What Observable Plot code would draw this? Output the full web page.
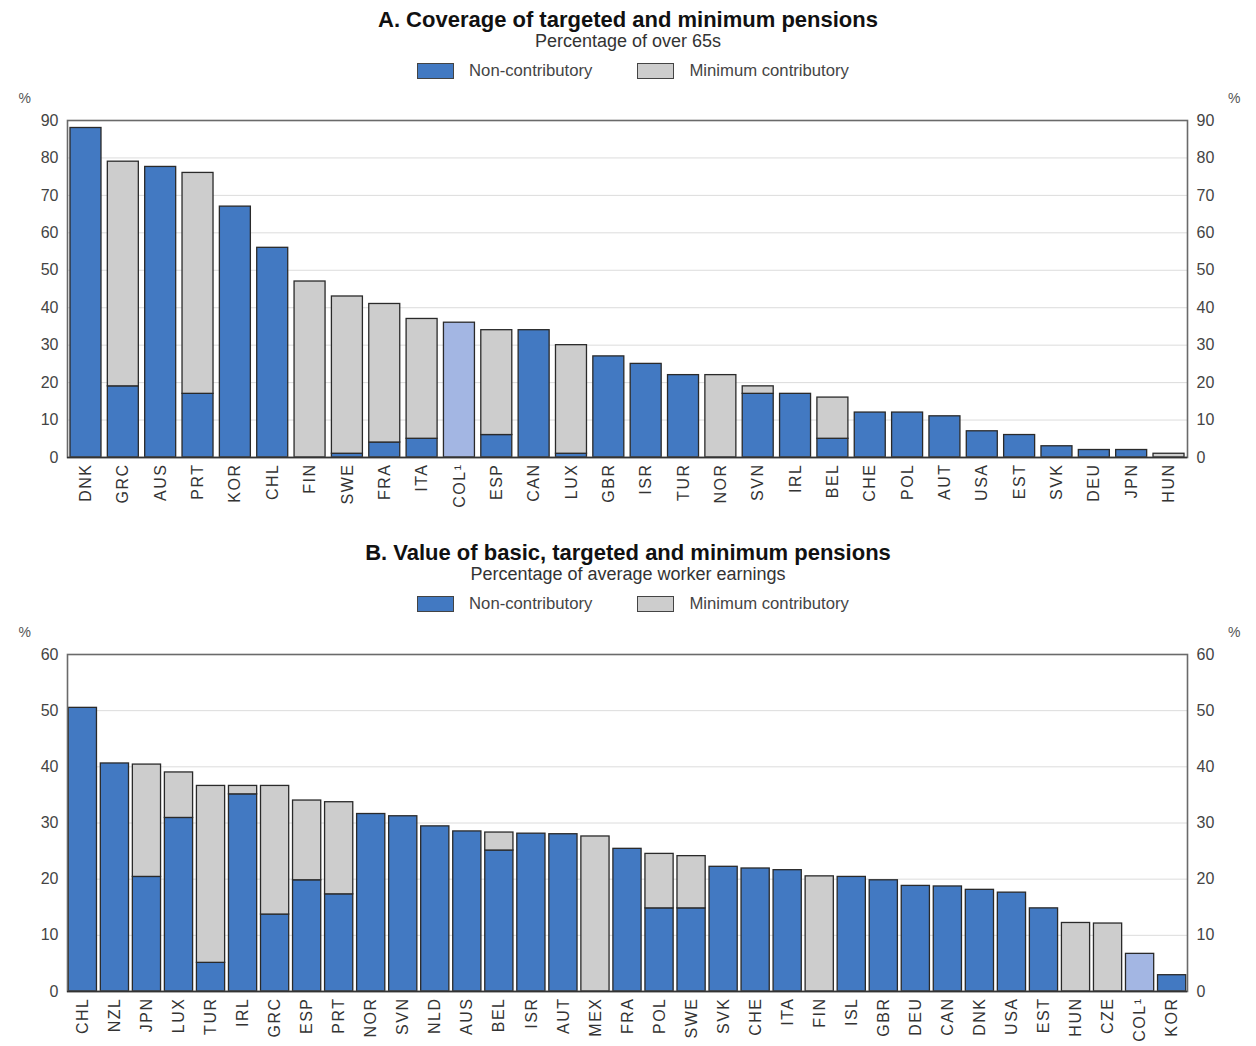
<!DOCTYPE html>
<html><head><meta charset="utf-8">
<script src="https://cdn.jsdelivr.net/npm/d3@7"></script>
<script src="https://cdn.jsdelivr.net/npm/@observablehq/plot@0.6"></script>
<style>
body{margin:0;background:#fff;font-family:"Liberation Sans",Arial,sans-serif;}
#root{position:relative;width:1256px;height:1046px;overflow:hidden;background:#fff}
.abs{position:absolute;left:0;width:1256px;text-align:center;white-space:nowrap}
.title{font-weight:bold;font-size:22px;line-height:22px;color:#111}
.sub{font-size:18px;line-height:18px;color:#333}
.legend{display:flex;justify-content:center;align-items:center;font-size:16.7px;line-height:17px;color:#444;padding-left:10px;box-sizing:border-box}
.sw{width:35px;height:14px;border:1px solid #444;margin-right:15px}
.item{display:flex;align-items:center}
.item:first-child{margin-right:45px}
.chart{position:absolute;left:0}
g[aria-label="x-axis tick label"] text{letter-spacing:1.5px}
</style>
</head><body>
<div id="root"></div>
<script>
// ---------- Data ----------
const nonLabel = "Non-contributory";
const minLabel = "Minimum contributory";
const highlighted = ["COL¹"];

// Panel A: coverage (% of over 65s)
const countriesA = ["DNK","GRC","AUS","PRT","KOR","CHL","FIN","SWE","FRA","ITA","COL¹","ESP","CAN","LUX","GBR","ISR","TUR","NOR","SVN","IRL","BEL","CHE","POL","AUT","USA","EST","SVK","DEU","JPN","HUN"];
const nonContribA = [88,19,77.6,17,67,56,0,1,4,5,36,6,34,1,27,25,22,0,17,17,5,12,12,11,7,6,3,2,2,0];
const minContribA = [0,60,0,59,0,0,47,42,37,32,0,28,0,29,0,0,0,22,2,0,11,0,0,0,0,0,0,0,0,1];
const yTicksA = [0,10,20,30,40,50,60,70,80,90];

// Panel B: value (% of average worker earnings)
const countriesB = ["CHL","NZL","JPN","LUX","TUR","IRL","GRC","ESP","PRT","NOR","SVN","NLD","AUS","BEL","ISR","AUT","MEX","FRA","POL","SWE","SVK","CHE","ITA","FIN","ISL","GBR","DEU","CAN","DNK","USA","EST","HUN","CZE","COL¹","KOR"];
const nonContribB = [50.5,40.6,20.4,30.9,5.1,35.1,13.7,19.8,17.3,31.6,31.2,29.4,28.5,25.1,28.1,28.0,0,25.4,14.8,14.8,22.2,21.9,21.6,0,20.4,19.8,18.8,18.7,18.1,17.6,14.8,0,0,6.7,2.9];
const minContribB = [0,0,20.0,8.1,31.5,1.5,22.9,14.2,16.4,0,0,0,0,3.2,0,0,27.6,0,9.7,9.3,0,0,0,20.5,0,0,0,0,0,0,0,12.2,12.1,0,0];
const yTicksB = [0,10,20,30,40,50,60];

// ---------- Styles ----------
const BLUE = "#4279c2", GREY = "#cdcdcd", LIGHT = "#a3b6e3";
const FONT = "'Liberation Sans', Arial, sans-serif";

function longData(countries, non, min) {
  const rows = [];
  countries.forEach((c, i) => { if (non[i] > 0) rows.push({country: c, type: nonLabel, value: non[i]}); });
  countries.forEach((c, i) => { if (min[i] > 0) rows.push({country: c, type: minLabel, value: min[i]}); });
  return rows;
}

function fillOf(d) {
  if (highlighted.includes(d.country)) return LIGHT;
  return d.type === nonLabel ? BLUE : GREY;
}

function makeChart(countries, non, min, ticks, opts) {
  const data = longData(countries, non, min);
  return Plot.plot({
    width: 1256,
    height: opts.height,
    marginLeft: 67,
    marginRight: 69,
    marginTop: 32,
    marginBottom: opts.height - 32 - 337,
    style: {fontFamily: FONT, background: "#fff", color: "#333"},
    x: {domain: countries, paddingInner: opts.pi, paddingOuter: opts.po, round: false, label: null},
    y: {domain: [ticks[0], ticks[ticks.length - 1]], label: null},
    marks: [
      Plot.gridY(ticks.slice(1, -1), {stroke: "#dcdcdc", strokeOpacity: 1, strokeWidth: 1}),
      Plot.barY(data, Plot.stackY({
        x: "country", y: "value", z: "type",
        fill: fillOf, stroke: "#2a2a2a", strokeWidth: 1.3
      })),
      Plot.frame({stroke: "#6a6a6a", strokeWidth: 1.6}),
      Plot.ruleY([0], {stroke: "#333", strokeWidth: 1.5}),
      Plot.axisY(ticks, {anchor: "left", tickSize: 0, tickPadding: 9, fontSize: 16, fill: "#444", label: null}),
      Plot.axisY(ticks, {anchor: "right", tickSize: 0, tickPadding: 9, fontSize: 16, fill: "#444", label: null}),
      Plot.axisX({tickSize: 0, tickPadding: 6, tickRotate: -90, fontSize: 16, fill: "#333", label: null}),
      Plot.text(["%"], {text: d => d, frameAnchor: "top-left", dx: -49, dy: -27, fontSize: 14, fill: "#555"}),
      Plot.text(["%"], {text: d => d, frameAnchor: "top-right", dx: 53, dy: -27, fontSize: 14, fill: "#555"})
    ]
  });
}

function header(root, top, title, sub) {
  const t = document.createElement("div");
  t.className = "abs title"; t.style.top = (top - 1) + "px"; t.textContent = title;
  root.appendChild(t);
  const s = document.createElement("div");
  s.className = "abs sub"; s.style.top = (top + 22) + "px"; s.textContent = sub;
  root.appendChild(s);
  const l = document.createElement("div");
  l.className = "abs legend"; l.style.top = (top + 52) + "px";
  [[nonLabel, BLUE], [minLabel, GREY]].forEach(([lab, col]) => {
    const it = document.createElement("div"); it.className = "item";
    const sw = document.createElement("div"); sw.className = "sw"; sw.style.background = col;
    const tx = document.createElement("span"); tx.textContent = lab;
    it.appendChild(sw); it.appendChild(tx); l.appendChild(it);
  });
  root.appendChild(l);
}

const root = document.getElementById("root");
header(root, 10, "A. Coverage of targeted and minimum pensions", "Percentage of over 65s");
const cA = document.createElement("div"); cA.className = "chart"; cA.style.top = "88px";
cA.appendChild(makeChart(countriesA, nonContribA, minContribA, yTicksA, {height: 422, pi: 0.17, po: 0.08}));
root.appendChild(cA);

header(root, 543, "B. Value of basic, targeted and minimum pensions", "Percentage of average worker earnings");
const cB = document.createElement("div"); cB.className = "chart"; cB.style.top = "622px";
cB.appendChild(makeChart(countriesB, nonContribB, minContribB, yTicksB, {height: 424, pi: 0.12, po: 0.04}));
root.appendChild(cB);
</script>
</body></html>
